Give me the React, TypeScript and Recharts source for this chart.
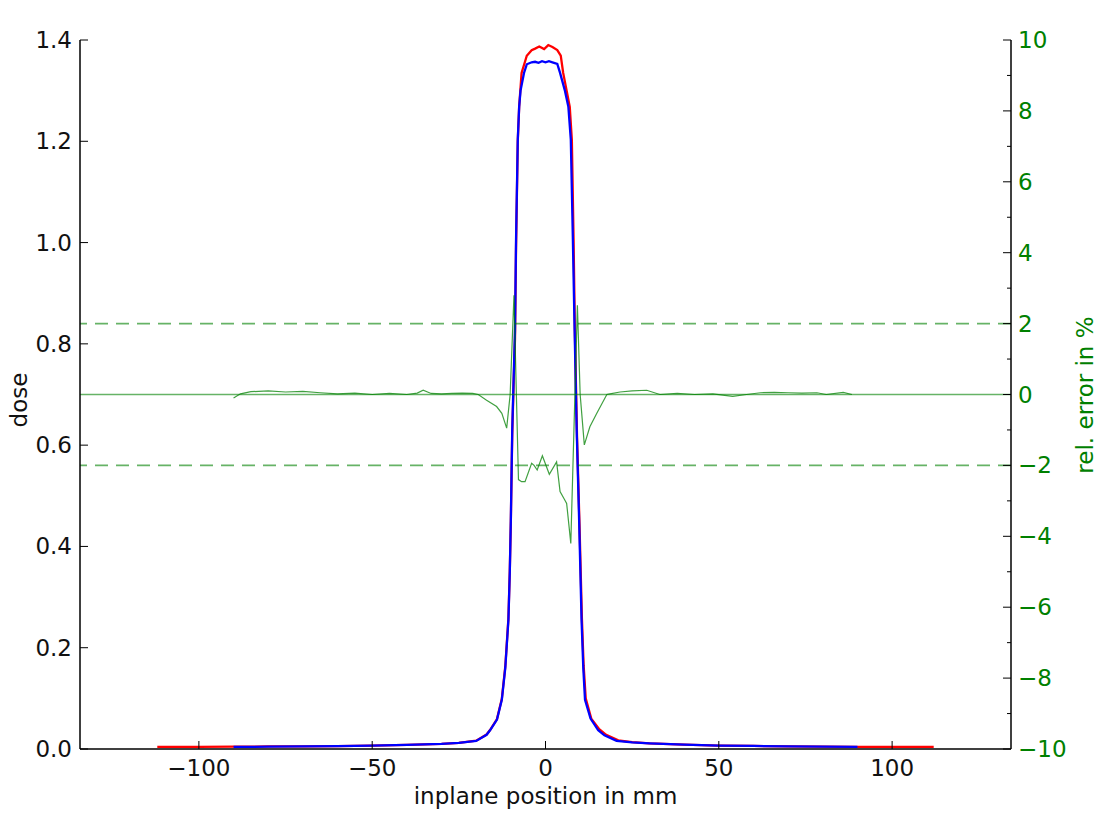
import React from 'react';
import { ComposedChart, Line, XAxis, YAxis, ReferenceLine, Label } from 'recharts';

const FONT = '"DejaVu Sans", sans-serif';
const GREEN = '#008000';

// x tick labels / axis ticks
const xTicks = [-100, -50, 0, 50, 100];
const doseTicks = [0, 0.2, 0.4, 0.6, 0.8, 1.0, 1.2, 1.4];
const errTicks = [-10, -9, -8, -7, -6, -5, -4, -3, -2, -1, 0, 1, 2, 3, 4, 5, 6, 7, 8, 9, 10];
const errLimits = [-2, 2];

// red dose profile (reference)
const redX = [-112, -100, -90, -80, -70, -60, -50, -40, -30, -25, -20, -17, -16, -14, -12.6, -11.6, -10.7, -10.3, -10.0, -9.6, -9.2, -8.8, -8.5, -8.0, -7.6, -6.9, -5.4, -4.0, -3, -1.8, -0.4, 0.8, 2, 3.4, 4.4, 5.1, 6.1, 7.0, 7.6, 8.1, 8.5, 9.1, 9.8, 10.5, 11.0, 11.6, 13.2, 15.5, 17.5, 21, 25, 30, 40, 50, 60, 70, 80, 90, 100, 112];
const redDose = [0.004, 0.004, 0.0045, 0.005, 0.0052, 0.0058, 0.0067, 0.0082, 0.0102, 0.0122, 0.0163, 0.0285, 0.0375, 0.059, 0.099, 0.163, 0.258, 0.352, 0.45, 0.62, 0.72, 0.81, 0.99, 1.2, 1.268, 1.335, 1.369, 1.380, 1.383, 1.387, 1.382, 1.390, 1.386, 1.380, 1.369, 1.335, 1.30, 1.268, 1.203, 1.005, 0.815, 0.615, 0.445, 0.258, 0.165, 0.1, 0.06, 0.039, 0.028, 0.017, 0.0135, 0.0112, 0.0085, 0.0068, 0.006, 0.0052, 0.0046, 0.004, 0.004, 0.004];

// blue dose profile (calculated)
const blueX = [-90, -80, -70, -60, -50, -40, -30, -25, -20, -17, -16, -14, -12.6, -11.6, -10.7, -10.3, -10.0, -9.6, -9.2, -8.8, -8.5, -8.0, -7.6, -7.2, -6.2, -5.4, -4, -3, -2, -1, 0, 1, 2, 3.4, 4.2, 5.6, 6.6, 7.3, 7.9, 8.4, 9.0, 9.7, 10.4, 10.9, 11.4, 13, 15.2, 17, 20.5, 25, 30, 40, 50, 60, 70, 80, 90];
const blueDose = [0.004, 0.0045, 0.005, 0.0056, 0.0065, 0.008, 0.010, 0.012, 0.016, 0.028, 0.037, 0.058, 0.097, 0.16, 0.255, 0.35, 0.452, 0.63, 0.73, 0.827, 1.005, 1.203, 1.268, 1.30, 1.335, 1.352, 1.356, 1.357, 1.355, 1.358, 1.356, 1.358, 1.356, 1.353, 1.335, 1.30, 1.268, 1.203, 1.005, 0.827, 0.63, 0.452, 0.255, 0.16, 0.097, 0.06, 0.037, 0.027, 0.016, 0.013, 0.011, 0.0085, 0.0068, 0.006, 0.0052, 0.0046, 0.004];

// relative error in %
const errX = [-90, -88, -85, -80, -75, -70, -65, -60, -55, -50, -45, -40, -37, -35.3, -33, -30, -27, -24, -21, -19.4, -17, -14.1, -12.6, -11.2, -10.2, -9.1, -7.8, -6.9, -5.9, -4.0, -3.3, -2.4, -0.9, 1.1, 3.2, 4.2, 5.4, 6.1, 7.3, 9.2, 10.0, 11.2, 12.8, 14.8, 17.7, 18.6, 21.5, 25, 29.2, 33, 38, 43, 48.3, 54, 58, 62, 66, 70, 74, 78.3, 81, 85.9, 88.4];
const errPct = [-0.1, 0.02, 0.08, 0.1, 0.07, 0.09, 0.05, 0.02, 0.04, 0.0, 0.03, 0.0, 0.04, 0.12, 0.03, 0.02, 0.03, 0.04, 0.03, 0.0, -0.16, -0.34, -0.53, -0.95, 0.0, 2.8, -2.4, -2.46, -2.46, -1.94, -2.0, -2.13, -1.73, -2.25, -1.9, -2.74, -2.95, -3.07, -4.2, 2.52, 0.0, -1.42, -0.91, -0.53, 0.0, 0.02, 0.07, 0.1, 0.12, 0.0, 0.03, 0.0, 0.02, -0.05, 0.0, 0.05, 0.06, 0.05, 0.04, 0.05, 0.0, 0.06, 0.0];

const redData = redX.map((x, i) => ({ x, dose: redDose[i] }));
const blueData = blueX.map((x, i) => ({ x, dose: blueDose[i] }));
const errData = errX.map((x, i) => ({ x, err: errPct[i] }));

const fmt = (v: number) => (v < 0 ? '\u2212' + Math.abs(v) : String(v));

const BottomTick = (props: any) => {
  const { x, y, payload } = props;
  return (
    <g>
      <line x1={x} x2={x} y1={y} y2={y - 8} stroke="#000" strokeWidth={1} />
      <text x={x} y={y + 27} textAnchor="middle" fontSize={23} fontFamily={FONT} fill="#111">
        {fmt(payload.value)}
      </text>
    </g>
  );
};

const TopTick = (props: any) => {
  const { x, y } = props;
  return <line x1={x} x2={x} y1={y} y2={y + 8} stroke="#000" strokeWidth={1} />;
};

const LeftTick = (props: any) => {
  const { x, y, payload } = props;
  return (
    <g>
      <line x1={x} x2={x + 8} y1={y} y2={y} stroke="#000" strokeWidth={1} />
      <text x={x - 8} y={y + 8} textAnchor="end" fontSize={23} fontFamily={FONT} fill="#111">
        {Number(payload.value).toFixed(1)}
      </text>
    </g>
  );
};

const RightTick = (props: any) => {
  const { x, y, payload } = props;
  const v = payload.value as number;
  const major = v % 2 === 0;
  return (
    <g>
      <line x1={x - (major ? 8 : 4)} x2={x} y1={y} y2={y} stroke="#000" strokeWidth={1} />
      {major && (
        <text x={x + 7} y={y + 8} textAnchor="start" fontSize={23} fontFamily={FONT} fill={GREEN}>
          {fmt(v)}
        </text>
      )}
    </g>
  );
};

export default function App() {
  return (
    <div style={{ position: 'absolute', left: 0, top: 0, background: '#fff' }}>
      <ComposedChart
        width={1101}
        height={814}
        margin={{ top: 40, right: 30, bottom: 0, left: 20 }}
      >
        <XAxis
          dataKey="x"
          type="number"
          domain={[-134.3, 134.3]}
          allowDataOverflow
          ticks={xTicks}
          interval={0}
          height={65}
          tickSize={0}
          tickMargin={0}
          tickLine={false}
          tick={<BottomTick />}
          axisLine={{ stroke: '#000', strokeWidth: 1.5 }}
        >
          <Label
            content={() => (
              <text x={545.5} y={804} textAnchor="middle" fontSize={23} fontFamily={FONT} fill="#111">
                inplane position in mm
              </text>
            )}
          />
        </XAxis>
        <XAxis
          xAxisId="top"
          orientation="top"
          dataKey="x"
          type="number"
          domain={[-134.3, 134.3]}
          allowDataOverflow
          ticks={xTicks}
          interval={0}
          height={0}
          tickSize={0}
          tickMargin={0}
          tickLine={false}
          tick={<TopTick />}
          axisLine={{ stroke: '#000', strokeWidth: 1.5 }}
        >
          <Label
            content={() => (
              <text x={545.5} y={31} textAnchor="middle" fontSize={28} fontFamily={FONT} fill="#111">
                20x20_900_IP_15_plot
              </text>
            )}
          />
        </XAxis>
        <YAxis
          yAxisId="left"
          domain={[0, 1.4]}
          ticks={doseTicks}
          interval={0}
          width={60}
          tickSize={0}
          tickMargin={0}
          tickLine={false}
          tick={<LeftTick />}
          axisLine={{ stroke: '#000', strokeWidth: 1.5 }}
          allowDataOverflow
        >
          <Label
            content={() => (
              <text
                x={0}
                y={0}
                transform="translate(27, 400) rotate(-90)"
                textAnchor="middle"
                fontSize={23}
                fontFamily={FONT}
                fill="#111"
              >
                dose
              </text>
            )}
          />
        </YAxis>
        <YAxis
          yAxisId="right"
          orientation="right"
          domain={[-10, 10]}
          ticks={errTicks}
          interval={0}
          width={60}
          tickSize={0}
          tickMargin={0}
          tickLine={false}
          tick={<RightTick />}
          axisLine={{ stroke: '#000', strokeWidth: 1.5 }}
          allowDataOverflow
        >
          <Label
            content={() => (
              <text
                x={0}
                y={0}
                transform="translate(1093, 395) rotate(-90)"
                textAnchor="middle"
                fontSize={23}
                fontFamily={FONT}
                fill={GREEN}
              >
                rel. error in %
              </text>
            )}
          />
        </YAxis>

        <Line
          data={redData}
          dataKey="dose"
          yAxisId="left"
          type="linear"
          stroke="#ff0000"
          strokeWidth={2.3}
          dot={false}
          activeDot={false}
          isAnimationActive={false}
        />
        <Line
          data={blueData}
          dataKey="dose"
          yAxisId="left"
          type="linear"
          stroke="#0000ff"
          strokeWidth={2.3}
          dot={false}
          activeDot={false}
          isAnimationActive={false}
        />
        <ReferenceLine yAxisId="right" y={0} stroke={GREEN} strokeOpacity={0.6} strokeWidth={1.6} />
        {errLimits.map((v) => (
          <ReferenceLine
            key={v}
            yAxisId="right"
            y={v}
            stroke={GREEN}
            strokeOpacity={0.6}
            strokeWidth={1.6}
            strokeDasharray="13 8"
          />
        ))}
        <Line
          data={errData}
          dataKey="err"
          yAxisId="right"
          type="linear"
          stroke={GREEN}
          strokeOpacity={0.75}
          strokeWidth={1.2}
          dot={false}
          activeDot={false}
          isAnimationActive={false}
        />
      </ComposedChart>
    </div>
  );
}
